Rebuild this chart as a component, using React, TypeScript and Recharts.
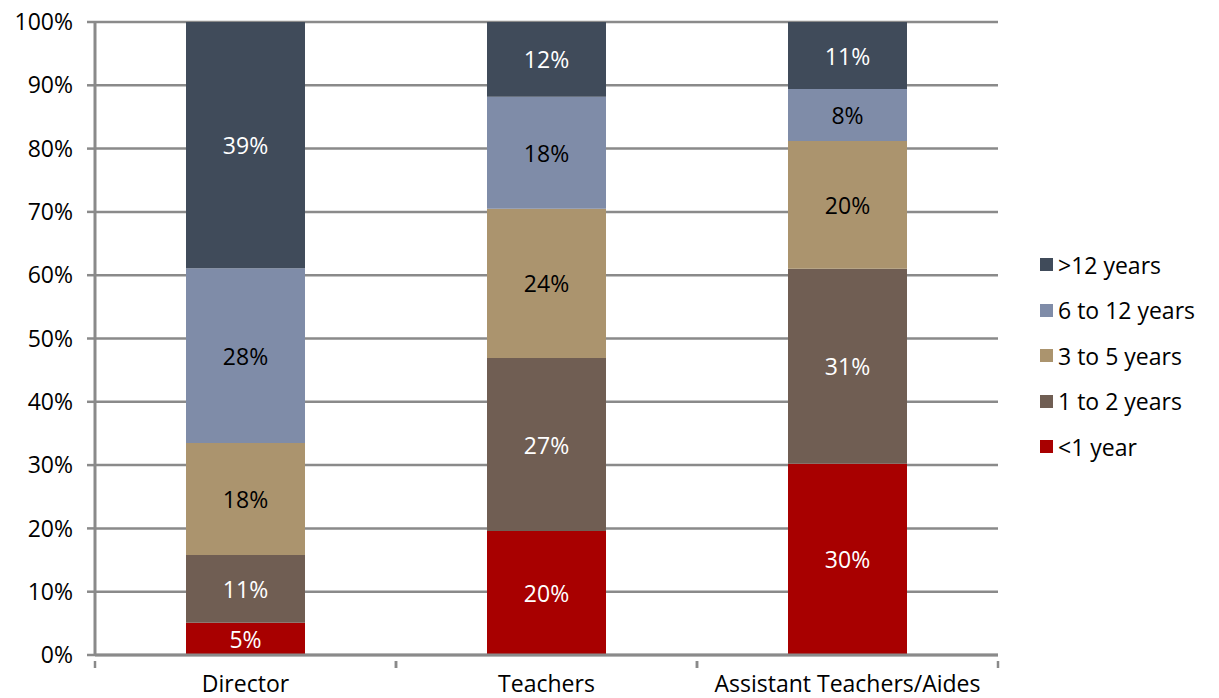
import React from "react";
import {
  BarChart,
  Bar,
  XAxis,
  YAxis,
  CartesianGrid,
  LabelList,
} from "recharts";

const CATEGORIES = ["Director", "Teachers", "Assistant Teachers/Aides"];
const UNDER_ONE = [5.1, 19.6, 30.2];
const ONE_TO_TWO = [10.7, 27.3, 30.8];
const THREE_TO_FIVE = [17.7, 23.6, 20.2];
const SIX_TO_TWELVE = [27.6, 17.7, 8.2];
const OVER_TWELVE = [38.9, 11.8, 10.6];
const Y_TICKS = [0, 10, 20, 30, 40, 50, 60, 70, 80, 90, 100];

const SERIES = [
  { key: "under1", name: "<1 year", color: "#a80000", text: "#ffffff" },
  { key: "oneTwo", name: "1 to 2 years", color: "#705e53", text: "#ffffff" },
  { key: "threeFive", name: "3 to 5 years", color: "#ab946e", text: "#000000" },
  { key: "sixTwelve", name: "6 to 12 years", color: "#7f8ca8", text: "#000000" },
  { key: "over12", name: ">12 years", color: "#404b5a", text: "#ffffff" },
];

const data = CATEGORIES.map((name, i) => ({
  name,
  under1: UNDER_ONE[i],
  oneTwo: ONE_TO_TWO[i],
  threeFive: THREE_TO_FIVE[i],
  sixTwelve: SIX_TO_TWELVE[i],
  over12: OVER_TWELVE[i],
}));

const FONT = "'Open Sans', Lato, sans-serif";
const GRID = "#8a8a8a";

function makeLabel(fill: string) {
  return (props: any) => {
    const { x, y, width, height, value } = props;
    return (
      <text
        x={x + width / 2}
        y={y + height / 2}
        fill={fill}
        fontSize={23}
        fontFamily={FONT}
        textAnchor="middle"
        dominantBaseline="central"
      >
        {Math.round(value)}%
      </text>
    );
  };
}

// category label plus tick marks on both band edges
function CategoryTick(props: any) {
  const { x, y, payload } = props;
  const half = payload.offset ?? 0;
  return (
    <g>
      <line x1={x - half} x2={x - half} y1={y - 15} y2={y - 8} stroke={GRID} strokeWidth={2.5} />
      <line x1={x + half} x2={x + half} y1={y - 15} y2={y - 8} stroke={GRID} strokeWidth={2.5} />
      <text
        x={x}
        y={y}
        dy={16}
        fill="#000"
        fontSize={23}
        fontFamily={FONT}
        textAnchor="middle"
      >
        {payload.value}
      </text>
    </g>
  );
}

function LegendBox() {
  const items = [...SERIES].reverse();
  return (
    <div
      style={{
        position: "absolute",
        left: 1040,
        top: 242,
        fontFamily: FONT,
        fontSize: 23,
        color: "#000",
        whiteSpace: "nowrap",
      }}
    >
      {items.map((s) => (
        <div
          key={s.key}
          style={{ display: "flex", alignItems: "center", height: 45.5 }}
        >
          <span
            style={{
              width: 13,
              height: 13,
              background: s.color,
              display: "inline-block",
              marginRight: 5,
            }}
          />
          <span>{s.name}</span>
        </div>
      ))}
    </div>
  );
}

export default function App() {
  return (
    <div
      style={{
        position: "absolute",
        left: 0,
        top: 0,
        width: 1219,
        height: 698,
        background: "#fff",
      }}
    >
      <BarChart
        width={1219}
        height={698}
        data={data}
        margin={{ top: 22, right: 221, bottom: 0, left: 0 }}
        barSize={119}
      >
        <CartesianGrid vertical={false} stroke={GRID} strokeWidth={2.5} />
        <XAxis
          dataKey="name"
          height={43}
          axisLine={{ stroke: GRID, strokeWidth: 3 }}
          tickLine={false}
          tick={<CategoryTick />}
          tickMargin={15}
          interval={0}
        />
        <YAxis
          width={95}
          domain={[0, 100]}
          ticks={Y_TICKS}
          tickFormatter={(v: number) => `${v}%`}
          axisLine={{ stroke: GRID, strokeWidth: 3 }}
          tickLine={{ stroke: GRID, strokeWidth: 2.5 }}
          tickSize={8}
          tickMargin={14}
          tick={{ fill: "#000", fontSize: 23, fontFamily: FONT }}
        />
        {SERIES.map((s) => (
          <Bar
            key={s.key}
            dataKey={s.key}
            name={s.name}
            stackId="a"
            fill={s.color}
            isAnimationActive={false}
          >
            <LabelList dataKey={s.key} content={makeLabel(s.text)} />
          </Bar>
        ))}
      </BarChart>
      <LegendBox />
    </div>
  );
}
